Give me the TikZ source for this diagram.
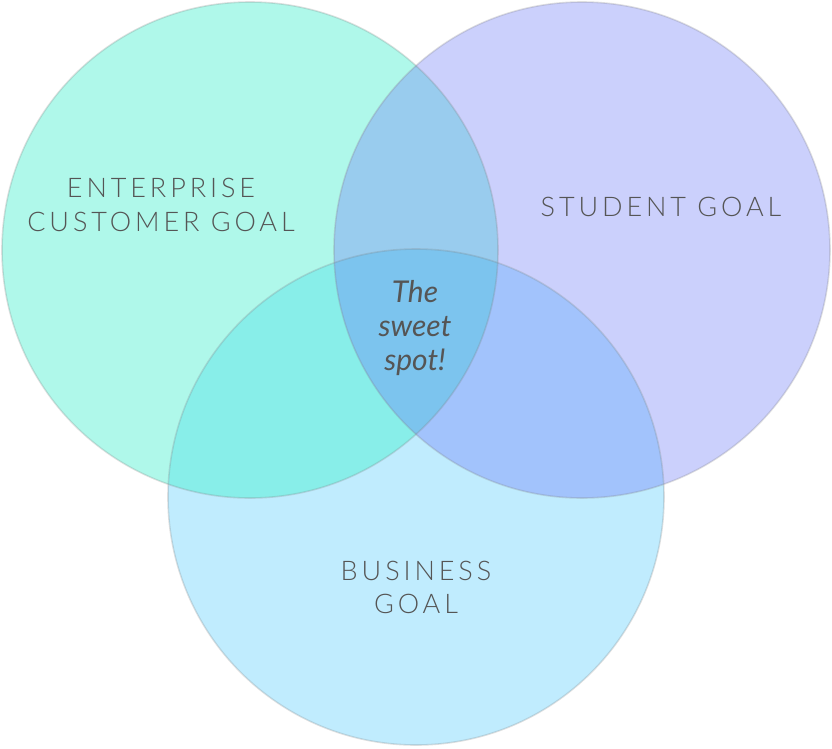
\documentclass[tikz,border=0pt]{standalone}
\usepackage{fontspec}
\setmainfont{Lato}
\IfFontExistsTF{Lato Light}
  {\newfontfamily\labelfont[LetterSpace=14.5]{Lato Light}}
  {\newfontfamily\labelfont[LetterSpace=14.5]{Lato}}
\definecolor{cL}{HTML}{AFF8EA}
\definecolor{cR}{HTML}{CBD0FC}
\definecolor{cB}{HTML}{C0ECFE}
\definecolor{cLB}{HTML}{88EEE9}
\definecolor{cLR}{HTML}{99CCEE}
\definecolor{cRB}{HTML}{A2C3FC}
\definecolor{cAll}{HTML}{7CC4EE}
\definecolor{txt}{HTML}{555555}
\tikzset{
  goal/.style={anchor=base, inner sep=0pt, text=txt, font=\labelfont\fontsize{27}{32}\selectfont},
  sweet/.style={anchor=base, inner sep=0pt, text=txt, font=\itshape\fontsize{30}{34}\selectfont},
  rim/.style={draw=gray, draw opacity=0.25, line width=1.6pt}
}
\begin{document}
\begin{tikzpicture}[x=1pt,y=-1pt]
\useasboundingbox (0,0) rectangle (832,748);
\coordinate (L) at (250,250);
\coordinate (R) at (582,250);
\coordinate (B) at (416,497);
\fill[cL] (L) circle[radius=248pt];
\fill[cR] (R) circle[radius=248pt];
\fill[cB] (B) circle[radius=248pt];
\begin{scope}
  \clip (L) circle[radius=248pt];
  \fill[cLR] (R) circle[radius=248pt];
  \fill[cLB] (B) circle[radius=248pt];
\end{scope}
\begin{scope}
  \clip (R) circle[radius=248pt];
  \fill[cRB] (B) circle[radius=248pt];
\end{scope}
\begin{scope}
  \clip (L) circle[radius=248pt];
  \clip (R) circle[radius=248pt];
  \fill[cAll] (B) circle[radius=248pt];
\end{scope}
\draw[rim] (L) circle[radius=248pt];
\draw[rim] (R) circle[radius=248pt];
\draw[rim] (B) circle[radius=248pt];
\node[goal] (e1) at (161,197) {ENTERPRISE};
\node[goal] (e2) at (161,231) {CUSTOMER GOAL};
\node[goal] (s1) at (661,216) {STUDENT GOAL};
\node[goal] (b1) at (416,580) {BUSINESS};
\node[goal] (b2) at (416,613) {GOAL};
\node[sweet] (w1) at (415,302) {The};
\node[sweet] (w2) at (415,336) {sweet};
\node[sweet] (w3) at (415,370) {spot!};
\end{tikzpicture}
\end{document}
